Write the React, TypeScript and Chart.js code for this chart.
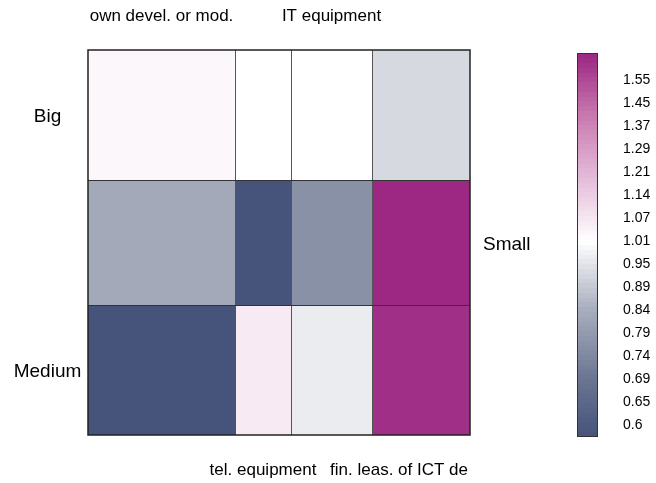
import React, { useEffect, useRef } from "react";
import { Chart, registerables } from "chart.js";

Chart.register(...registerables);

const rowLabels = ["Big", "Small", "Medium"];
const colLabels = ["own devel. or mod.", "tel. equipment", "IT equipment", "fin. leas. of ICT de"];
const colShares = [147, 56, 81, 98];
const rowShares = [130, 125, 130];
const cellValues = [
  [1.03, 1.01, 1.01, 0.926],
  [0.83, 0.58, 0.765, 1.66],
  [0.58, 1.06, 0.968, 1.635],
];
const colorbarTicks = [0.6, 0.65, 0.69, 0.74, 0.79, 0.84, 0.89, 0.95, 1.01, 1.07, 1.14, 1.21, 1.29, 1.37, 1.45, 1.55];

const colorStops: [number, number[]][] = [
  [-0.5, [69, 83, 122]],
  [2, [106, 117, 145]],
  [5, [168, 173, 189]],
  [8, [255, 255, 255]],
  [11, [226, 181, 213]],
  [13.5, [200, 120, 175]],
  [16.2, [154, 37, 129]],
];

function valueToIndex(v: number): number {
  const t = colorbarTicks;
  if (v <= t[0]) return (v - t[0]) / (t[1] - t[0]);
  const n = t.length;
  if (v >= t[n - 1]) return n - 1 + (v - t[n - 1]) / (t[n - 1] - t[n - 2]);
  for (let i = 0; i < n - 1; i++) {
    if (v >= t[i] && v <= t[i + 1]) return i + (v - t[i]) / (t[i + 1] - t[i]);
  }
  return 0;
}

function indexToColor(idx: number): string {
  const s = colorStops;
  if (idx <= s[0][0]) return `rgb(${s[0][1].join(",")})`;
  if (idx >= s[s.length - 1][0]) return `rgb(${s[s.length - 1][1].join(",")})`;
  for (let i = 0; i < s.length - 1; i++) {
    const [a, ca] = s[i];
    const [b, cb] = s[i + 1];
    if (idx >= a && idx <= b) {
      const f = (idx - a) / (b - a);
      const c = ca.map((x, k) => Math.round(x + (cb[k] - x) * f));
      return `rgb(${c.join(",")})`;
    }
  }
  return "#fff";
}

const FONT = "'Liberation Sans', Arial, sans-serif";

export default function App() {
  const ref = useRef<HTMLCanvasElement | null>(null);

  useEffect(() => {
    document.body.style.margin = "0";
    const canvas = ref.current;
    if (!canvas) return;

    const totalX = colShares.reduce((a, b) => a + b, 0);
    const totalY = rowShares.reduce((a, b) => a + b, 0);

    const centers: { x: number; y: number }[] = [];
    let yc = 0;
    rowShares.forEach((h) => {
      let xc = 0;
      colShares.forEach((w) => {
        centers.push({ x: xc + w / 2, y: yc + h / 2 });
        xc += w;
      });
      yc += h;
    });

    const mosaicPlugin = {
      id: "mosaic",
      beforeDatasetsDraw(chart: any) {
        const ctx = chart.ctx as CanvasRenderingContext2D;
        const xs = chart.scales.x;
        const ys = chart.scales.y;
        const area = chart.chartArea;
        ctx.save();
        let y0 = 0;
        rowShares.forEach((h, r) => {
          let x0 = 0;
          colShares.forEach((w, c) => {
            const px0 = xs.getPixelForValue(x0);
            const px1 = xs.getPixelForValue(x0 + w);
            const py0 = ys.getPixelForValue(y0);
            const py1 = ys.getPixelForValue(y0 + h);
            ctx.fillStyle = indexToColor(valueToIndex(cellValues[r][c]));
            ctx.fillRect(px0, py0, px1 - px0, py1 - py0);
            x0 += w;
          });
          y0 += h;
        });
        // inner lines
        ctx.strokeStyle = "#555";
        ctx.lineWidth = 1;
        let xAcc = 0;
        colShares.slice(0, -1).forEach((w) => {
          xAcc += w;
          const px = Math.round(xs.getPixelForValue(xAcc)) + 0.5;
          ctx.beginPath();
          ctx.moveTo(px, area.top);
          ctx.lineTo(px, area.bottom);
          ctx.stroke();
        });
        ctx.strokeStyle = "#333";
        let yAcc = 0;
        rowShares.slice(0, -1).forEach((h) => {
          yAcc += h;
          const py = Math.round(ys.getPixelForValue(yAcc)) + 0.5;
          ctx.beginPath();
          ctx.moveTo(area.left, py);
          ctx.lineTo(area.right, py);
          ctx.stroke();
        });
        ctx.strokeStyle = "#222";
        ctx.lineWidth = 1.5;
        ctx.strokeRect(area.left, area.top, area.right - area.left, area.bottom - area.top);

        // column labels
        ctx.fillStyle = "#000";
        ctx.font = `17px ${FONT}`;
        ctx.textBaseline = "middle";
        let cx = 0;
        colShares.forEach((w, c) => {
          const center = xs.getPixelForValue(cx + w / 2);
          const top = c % 2 === 0;
          const y = top ? area.top - 34 : area.bottom + 35;
          if (c === colShares.length - 1) {
            ctx.textAlign = "right";
            ctx.fillText(colLabels[c], xs.getPixelForValue(cx + w) - 2, y);
          } else {
            ctx.textAlign = "center";
            ctx.fillText(colLabels[c], center, y);
          }
          cx += w;
        });

        // row labels
        ctx.font = `19px ${FONT}`;
        let ry = 0;
        rowShares.forEach((h, r) => {
          const center = ys.getPixelForValue(ry + h / 2) + 2;
          if (r % 2 === 0) {
            ctx.textAlign = "center";
            ctx.fillText(rowLabels[r], area.left - 40.5, center);
          } else {
            ctx.textAlign = "left";
            ctx.fillText(rowLabels[r], area.right + 13, center);
          }
          ry += h;
        });

        // colour bar
        const barX = area.right + 107;
        const barW = 20;
        const barTop = 53;
        const barBottom = 436;
        const idxTop = 16.17;
        const idxBottom = -0.48;
        const idxToY = (i: number) => barBottom - ((i - idxBottom) / (idxTop - idxBottom)) * (barBottom - barTop);
        const bands = 80;
        for (let k = 0; k < bands; k++) {
          const i0 = idxBottom + ((idxTop - idxBottom) * k) / bands;
          const i1 = idxBottom + ((idxTop - idxBottom) * (k + 1)) / bands;
          const yA = idxToY(i1);
          const yB = idxToY(i0);
          ctx.fillStyle = indexToColor((i0 + i1) / 2);
          ctx.fillRect(barX, Math.floor(yA), barW, Math.ceil(yB) - Math.floor(yA));
        }
        ctx.strokeStyle = "#333";
        ctx.lineWidth = 1;
        ctx.strokeRect(barX + 0.5, barTop + 0.5, barW, barBottom - barTop);
        ctx.fillStyle = "#000";
        ctx.font = `14px ${FONT}`;
        ctx.textAlign = "left";
        ctx.textBaseline = "middle";
        colorbarTicks.forEach((t, i) => {
          ctx.fillText(String(t), barX + 46, idxToY(i));
        });
        ctx.restore();
      },
    };

    const chart = new Chart(canvas, {
      type: "scatter",
      data: {
        datasets: [
          {
            data: centers,
            pointRadius: 0,
            pointHoverRadius: 0,
          },
        ],
      },
      options: {
        animation: false,
        responsive: false,
        maintainAspectRatio: false,
        events: [],
        layout: { padding: { left: 88, top: 50, right: 186, bottom: 48 } },
        scales: {
          x: { type: "linear", min: 0, max: totalX, display: false },
          y: { type: "linear", min: 0, max: totalY, reverse: true, display: false },
        },
        plugins: {
          legend: { display: false },
          tooltip: { enabled: false },
        },
      },
      plugins: [mosaicPlugin],
    });

    return () => chart.destroy();
  }, []);

  return (
    <div style={{ width: 656, height: 483, background: "#fff" }}>
      <canvas ref={ref} width={656} height={483} />
    </div>
  );
}
